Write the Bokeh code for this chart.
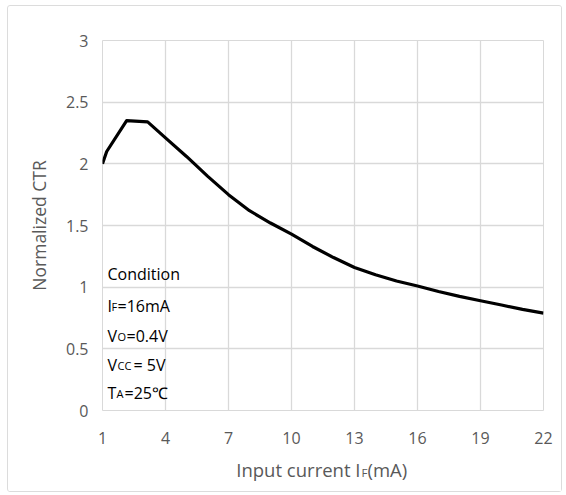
from bokeh.plotting import figure
from bokeh.layouts import column
from bokeh.models import Label, FixedTicker, Range1d
from bokeh.embed import file_html
from bokeh.resources import INLINE

# ---- data ----
input_current = [1, 1.2, 2.15, 3.15, 4, 5, 6, 7, 8, 9, 10, 11, 12, 13, 14, 15,
                 16, 17, 18, 19, 20, 21, 22]
normalized_ctr = [2.0, 2.1, 2.35, 2.34, 2.21, 2.06, 1.90, 1.75, 1.62, 1.52, 1.43,
                  1.33, 1.24, 1.16, 1.10, 1.05, 1.01, 0.965, 0.925, 0.89, 0.855,
                  0.82, 0.79]
x_ticks = [1, 4, 7, 10, 13, 16, 19, 22]
y_ticks = [0, 0.5, 1, 1.5, 2, 2.5, 3]
y_tick_labels = {0: "0", 0.5: "0.5", 1: "1", 1.5: "1.5", 2: "2", 2.5: "2.5", 3: "3"}

x_title_parts = ["Input current I", "F", "(mA)"]
y_title = "Normalized CTR"
cond_title = "Condition"
cond_main = ["I", "V", "V", "T"]
cond_sub = ["F", "O", "CC", "A"]
cond_rest = ["=16mA", " =0.4V", "= 5V", " =25\u2103"]

FONT = "Open Sans"
GRID = "#d9d9d9"
TXT = "#595959"

p = figure(width=553, height=446, output_backend="svg", toolbar_location=None,
           x_range=Range1d(1, 22), y_range=Range1d(0, 3),
           min_border_left=94, min_border_right=18, min_border_top=34,
           min_border_bottom=42)
p.background_fill_color = "white"
p.border_fill_color = "white"
p.outline_line_color = GRID

p.line(input_current, normalized_ctr, line_color="black", line_width=3.2,
       line_join="round")

p.xaxis.ticker = FixedTicker(ticks=x_ticks)
p.yaxis.ticker = FixedTicker(ticks=y_ticks)
p.yaxis.major_label_overrides = y_tick_labels
for ax in (p.xaxis, p.yaxis):
    ax.axis_line_color = None
    ax.major_tick_line_color = None
    ax.minor_tick_line_color = None
    ax.major_tick_out = 0
    ax.major_tick_in = 0
    ax.major_label_text_font = FONT
    ax.major_label_text_font_size = "16px"
    ax.major_label_text_color = TXT
p.xaxis.major_label_standoff = 21
p.yaxis.major_label_standoff = 14
p.yaxis.axis_label = y_title
p.yaxis.axis_label_text_font = FONT
p.yaxis.axis_label_text_font_size = "17.5px"
p.yaxis.axis_label_text_font_style = "normal"
p.yaxis.axis_label_text_color = TXT
p.yaxis.axis_label_standoff = 12

p.xgrid.grid_line_color = GRID
p.ygrid.grid_line_color = GRID
p.xgrid.grid_line_width = 1.3
p.ygrid.grid_line_width = 1.3


def add(fig, text, x_off, y_off, size, color, align="left"):
    fig.add_layout(Label(x=0, y=0, x_units="screen", y_units="screen",
                         x_offset=x_off, y_offset=y_off, text=text,
                         text_font=FONT, text_font_size=size, text_color=color,
                         text_align=align, text_baseline="alphabetic"))


# condition text (inside the plot area)
add(p, cond_title, 5, 137, "16px", "black")
base_y = [105, 75, 46, 18]
sub_off = [9, 15, 15, 14]
rest_off = [15, 24, 31, 22]
for i in range(4):
    add(p, cond_main[i], 5, base_y[i], "16px", "black")
    add(p, cond_sub[i], sub_off[i], base_y[i] - 1, "11px", "black")
    add(p, cond_rest[i], rest_off[i], base_y[i], "16px", "black")

# strip below holding the x-axis title (with its subscript)
p2 = figure(width=553, height=39, output_backend="svg", toolbar_location=None,
            x_range=Range1d(1, 22), y_range=Range1d(0, 1),
            x_axis_location=None, y_axis_location=None,
            min_border_left=94, min_border_right=18, min_border_top=0,
            min_border_bottom=0)
p2.outline_line_color = None
p2.background_fill_color = "white"
p2.border_fill_color = "white"
p2.xgrid.visible = False
p2.ygrid.visible = False
add(p2, x_title_parts[0], 258, 22.5, "18.5px", TXT, "right")
add(p2, x_title_parts[1], 259, 19.5, "11.5px", TXT)
add(p2, x_title_parts[2], 265, 22.5, "18.5px", TXT)

layout = column(p, p2, spacing=0)
layout.styles = {"border": "1.5px solid #dcdcdc", "border-radius": "3px",
                 "margin-left": "7px", "margin-top": "5px",
                 "background-color": "white"}

open("out.html", "w").write(file_html(layout, INLINE))
